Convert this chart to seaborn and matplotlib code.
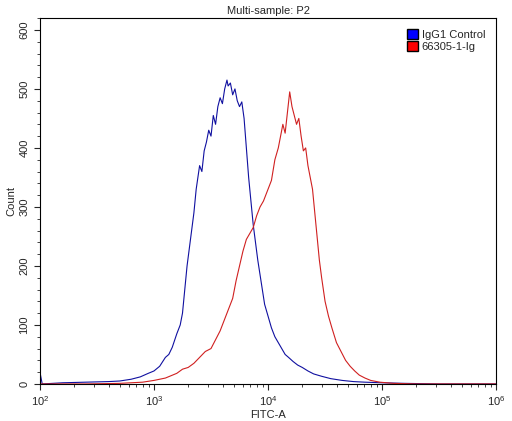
"""
FITC-A histogram, IgG1 control vs 66305-1-Ig
"""
import matplotlib
matplotlib.use("Agg")
import matplotlib.pyplot as plt
from matplotlib.patches import Patch
from matplotlib import ticker
import numpy as np
import seaborn as sns

sns.set_style("white")
plt.rcParams["font.family"] = ["Liberation Sans", "DejaVu Sans"]

# log10(FITC-A) bin centres and counts
blue_log = [2.0, 2.02, 2.2, 2.4, 2.6, 2.7, 2.8, 2.88, 2.95, 3.0, 3.05, 3.1, 3.13, 3.16, 3.2,
            3.23, 3.25, 3.27, 3.29, 3.31, 3.33, 3.35, 3.37, 3.4, 3.42, 3.44, 3.46, 3.48, 3.5,
            3.52, 3.54, 3.56, 3.58, 3.6, 3.62, 3.64, 3.65, 3.67, 3.69, 3.71, 3.73, 3.75, 3.77,
            3.79, 3.81, 3.83, 3.85, 3.87, 3.89, 3.91, 3.93, 3.95, 3.97, 4.0, 4.03, 4.06, 4.09,
            4.12, 4.15, 4.18, 4.22, 4.26, 4.3, 4.35, 4.4, 4.47, 4.55, 4.65, 4.75, 4.85, 5.0,
            5.2, 5.5, 6.0]
blue_cnt = [20, 0, 2, 3, 4, 5, 8, 12, 18, 22, 30, 45, 50, 62, 85,
            100, 120, 160, 200, 230, 260, 290, 330, 370, 360, 395, 410, 430, 420,
            455, 440, 470, 485, 475, 500, 515, 505, 510, 490, 500, 480, 470, 478,
            450, 400, 350, 310, 270, 240, 210, 185, 160, 135, 115, 95, 80, 70,
            60, 50, 45, 38, 32, 28, 22, 17, 13, 9, 6, 4, 3, 2,
            1, 0, 0]

red_log = [2.0, 2.4, 2.7, 2.9, 3.0, 3.05, 3.1, 3.15, 3.2, 3.25, 3.3, 3.35, 3.4, 3.45, 3.5,
           3.54, 3.58, 3.62, 3.66, 3.69, 3.72, 3.75, 3.78, 3.81, 3.84, 3.87, 3.9, 3.93, 3.96,
           4.0, 4.03, 4.06, 4.09, 4.11, 4.13, 4.15, 4.17, 4.19, 4.21, 4.23, 4.25, 4.27, 4.29,
           4.31, 4.33, 4.35, 4.37, 4.39, 4.41, 4.43, 4.45, 4.47, 4.5, 4.53, 4.56, 4.6, 4.64,
           4.68, 4.72, 4.76, 4.8, 4.85, 4.9, 4.98, 5.1, 5.3, 6.0]
red_cnt = [0, 0, 1, 3, 6, 8, 10, 14, 18, 25, 28, 35, 45, 55, 60,
           75, 90, 110, 130, 145, 175, 200, 225, 245, 255, 265, 285, 300, 310,
           330, 345, 380, 400, 420, 440, 425, 460, 495, 470, 455, 440, 450, 420,
           395, 400, 370, 350, 330, 290, 250, 210, 180, 140, 115, 95, 70, 55,
           40, 30, 22, 15, 10, 6, 3, 1, 0, 0]

fig = plt.figure(figsize=(5.12, 4.21), dpi=100)
ax = fig.add_axes([0.078, 0.088, 0.891, 0.869])

sns.lineplot(x=np.power(10.0, blue_log), y=blue_cnt, ax=ax, color="#1010a0", linewidth=0.8)
sns.lineplot(x=np.power(10.0, red_log), y=red_cnt, ax=ax, color="#d02020", linewidth=0.8)

ax.set_xscale("log")
ax.set_xlim(1e2, 1e6)
ax.set_ylim(0, 620)
ax.set_yticks([0, 100, 200, 300, 400, 500, 600])
ax.yaxis.set_minor_locator(ticker.MultipleLocator(20))
ax.xaxis.set_minor_locator(ticker.LogLocator(base=10, subs=np.arange(2, 10), numticks=20))
ax.tick_params(which="both", direction="out", left=True, bottom=True, labelsize=8)
ax.tick_params(which="major", length=4)
ax.tick_params(which="minor", length=2)
for lab in ax.get_yticklabels():
    lab.set_rotation(90)
    lab.set_va("center")
for s in ax.spines.values():
    s.set_color("black")
    s.set_linewidth(0.8)

ax.set_xlabel("FITC-A", fontsize=8, labelpad=1)
ax.set_ylabel("Count", fontsize=8, labelpad=2)
ax.set_title("Multi-sample: P2", fontsize=8, pad=3)

handles = [Patch(facecolor="#0000ff", edgecolor="black", label="IgG1 Control"),
           Patch(facecolor="#ff0000", edgecolor="black", label="66305-1-Ig")]
ax.legend(handles=handles, loc="upper right", frameon=False, fontsize=8,
          handlelength=1.0, handleheight=1.0, handletextpad=0.3, labelspacing=0.1,
          borderaxespad=0.6)

fig.savefig("out.png", dpi=100)
